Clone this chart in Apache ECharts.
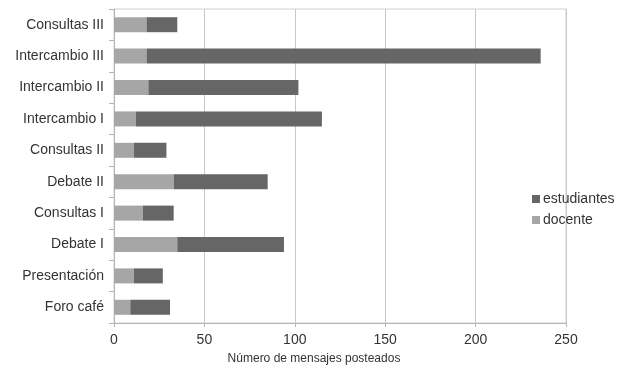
<!DOCTYPE html>
<html><head><meta charset="utf-8">
<script src="https://cdn.jsdelivr.net/npm/echarts@6/dist/echarts.min.js"></script>
<style>html,body{margin:0;padding:0;background:#fff}#c{width:643px;height:376px}</style>
</head><body><div id="c"></div>
<script>
const categories = ['Foro café','Presentación','Debate I','Consultas I','Debate II','Consultas II','Intercambio I','Intercambio II','Intercambio III','Consultas III'];
const docente = [9, 11, 35, 16, 33, 11, 12, 19, 18, 18];
const estudiantes = [22, 16, 59, 17, 52, 18, 103, 83, 218, 17];
const xTicks = [0, 50, 100, 150, 200, 250];

const chart = echarts.init(document.getElementById('c'));
const font = 'Liberation Sans, Arial, sans-serif';
chart.setOption({
  animation: false,
  textStyle: {fontFamily: font},
  grid: {left: 114, right: 77, top: 9, bottom: 53, show: true, borderColor: '#cfcfcf', borderWidth: 1},
  legend: {
    data: ['estudiantes', 'docente'], orient: 'vertical', left: 527, top: 187,
    itemWidth: 8, itemHeight: 8, itemGap: 7, icon: 'rect',
    textStyle: {fontSize: 14, color: '#333', fontFamily: font, padding: [0,0,0,-2]}
  },
  xAxis: {
    type: 'value', min: xTicks[0], max: xTicks[xTicks.length-1], interval: 50,
    name: 'Número de mensajes posteados', nameLocation: 'middle', nameGap: 30,
    nameTextStyle: {fontSize: 12, color: '#333', padding: [0, 52, 0, 0]},
    axisLine: {show: true, lineStyle: {color: '#b5b5b5'}},
    axisTick: {show: true, length: 4, lineStyle: {color: '#b5b5b5'}},
    axisLabel: {fontSize: 14, color: '#333', margin: 10},
    splitLine: {show: true, lineStyle: {color: '#c8c8c8'}}
  },
  yAxis: {
    type: 'category', data: categories,
    axisLine: {show: true, lineStyle: {color: '#b5b5b5'}},
    axisTick: {show: true, length: 5, lineStyle: {color: '#b5b5b5'}},
    axisLabel: {fontSize: 14, color: '#333', margin: 10}
  },
  series: [
    {name: 'docente', type: 'bar', stack: 't', data: docente, barWidth: 15, itemStyle: {color: '#a6a6a6'}},
    {name: 'estudiantes', type: 'bar', stack: 't', data: estudiantes, barWidth: 15, itemStyle: {color: '#666666'}}
  ]
});
</script></body></html>
